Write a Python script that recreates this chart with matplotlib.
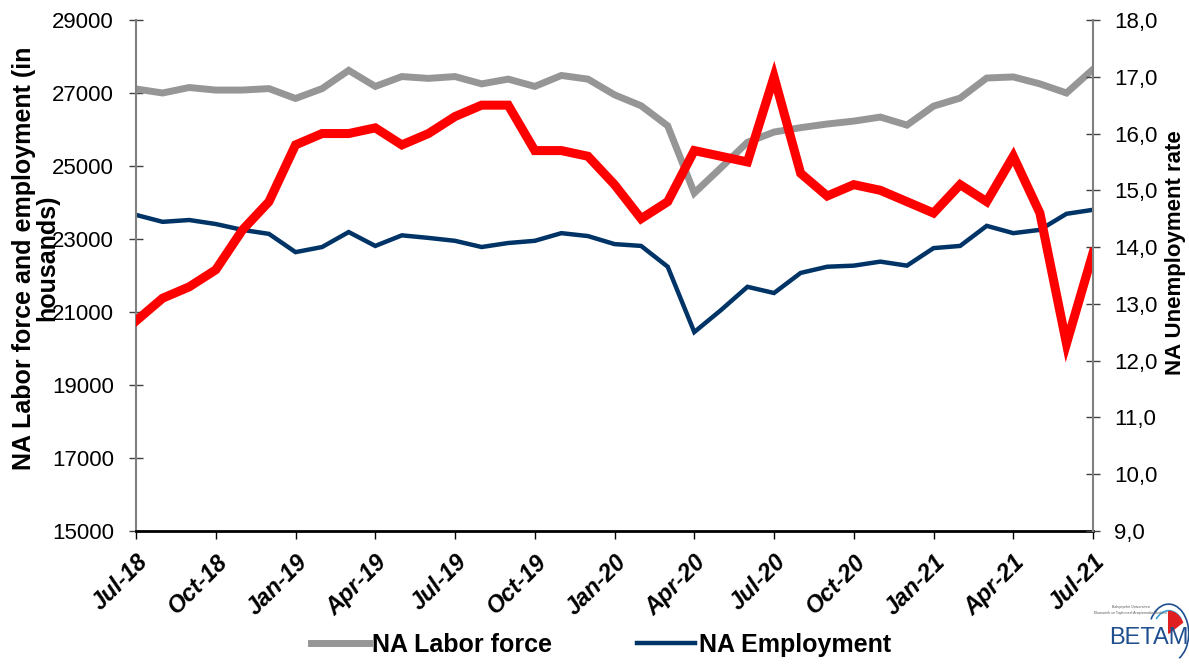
import matplotlib.pyplot as plt
from matplotlib.lines import Line2D
from matplotlib.patches import Arc, Wedge

# --- Data ---
months = ['Jul-18', 'Aug-18', 'Sep-18', 'Oct-18', 'Nov-18', 'Dec-18',
          'Jan-19', 'Feb-19', 'Mar-19', 'Apr-19', 'May-19', 'Jun-19',
          'Jul-19', 'Aug-19', 'Sep-19', 'Oct-19', 'Nov-19', 'Dec-19',
          'Jan-20', 'Feb-20', 'Mar-20', 'Apr-20', 'May-20', 'Jun-20',
          'Jul-20', 'Aug-20', 'Sep-20', 'Oct-20', 'Nov-20', 'Dec-20',
          'Jan-21', 'Feb-21', 'Mar-21', 'Apr-21', 'May-21', 'Jun-21',
          'Jul-21']

labor_force = [27110, 27000, 27150, 27080, 27080, 27120,
               26850, 27120, 27620, 27180, 27450, 27400,
               27450, 27250, 27380, 27180, 27480, 27380,
               26950, 26650, 26100, 24260, 24950, 25650,
               25930, 26050, 26150, 26230, 26340, 26120,
               26640, 26860, 27410, 27440, 27250, 27000,
               27650]

employment = [23660, 23470, 23520, 23410, 23250, 23140,
              22640, 22780, 23190, 22810, 23100, 23030,
              22950, 22780, 22890, 22950, 23160, 23080,
              22860, 22810, 22240, 20450, 21050, 21690,
              21520, 22070, 22240, 22270, 22380, 22270,
              22750, 22810, 23360, 23160, 23250, 23690,
              23800]

unemp_rate = [12.7, 13.1, 13.3, 13.6, 14.3, 14.8,
              15.8, 16.0, 16.0, 16.1, 15.8, 16.0,
              16.3, 16.5, 16.5, 15.7, 15.7, 15.6,
              15.1, 14.5, 14.8, 15.7, 15.6, 15.5,
              17.0, 15.3, 14.9, 15.1, 15.0, 14.8,
              14.6, 15.1, 14.8, 15.6, 14.6, 12.3,
              13.9]

left_ticks = [15000, 17000, 19000, 21000, 23000, 25000, 27000, 29000]
right_ticks = [9, 10, 11, 12, 13, 14, 15, 16, 17, 18]

GRAY = '#969696'
NAVY = '#003366'
RED = '#ff0000'
FONT = 'Liberation Sans'

plt.rcParams['font.family'] = [FONT, 'DejaVu Sans']

fig = plt.figure(figsize=(11.89, 6.64), dpi=100)
ax = fig.add_axes([0.1144, 0.2003, 0.8049, 0.7696])
ax2 = ax.twinx()

x = list(range(len(months)))

ax.plot(x, labor_force, color=GRAY, lw=5, solid_joinstyle='miter')
ax.plot(x, employment, color=NAVY, lw=3.2, solid_joinstyle='miter')
ax2.plot(x, unemp_rate, color=RED, lw=6.5, solid_joinstyle='miter')

# --- Axes styling ---
ax.set_xlim(0, len(months) - 1)
ax.set_ylim(15000, 29000)
ax2.set_ylim(9, 18)

ax.set_yticks(left_ticks)
ax.set_yticklabels([str(v) for v in left_ticks], fontsize=16)
ax2.set_yticks(right_ticks)
ax2.set_yticklabels([f'{v:.1f}'.replace('.', ',') for v in right_ticks], fontsize=16)

ax.set_xticks(x[::3])
ax.set_xticklabels(months[::3], rotation=45, ha='right', rotation_mode='anchor',
                   fontsize=17, fontweight='bold', fontstyle='italic')

for a in (ax, ax2):
    a.spines['top'].set_visible(False)
    a.patch.set_visible(False)
ax.spines['right'].set_visible(False)
ax2.spines['left'].set_visible(False)
ax2.spines['bottom'].set_visible(False)
ax.spines['left'].set_color('#808080')
ax2.spines['right'].set_color('#808080')
ax.spines['left'].set_linewidth(1.5)
ax2.spines['right'].set_linewidth(1.5)
ax.spines['bottom'].set_color('black')
ax.spines['bottom'].set_linewidth(2)

ax.tick_params(axis='y', direction='inout', length=10, width=1, color='#404040', pad=11)
ax2.tick_params(axis='y', direction='inout', length=10, width=1, color='#404040', pad=10)
ax.tick_params(axis='x', direction='out', length=6, width=1, color='black', pad=8)

ax.set_ylabel('NA Labor force and employment (in\nhousands)', fontsize=18,
              fontweight='bold', linespacing=0.95)
ax.yaxis.set_label_coords(-0.080, 0.534)
fig.text(0.9885, 0.620, 'NA Unemployment rate', rotation=90, fontsize=16,
         fontweight='bold', ha='center', va='center')

# --- Legend (only the two left-axis series) ---
handles = [Line2D([], [], color=GRAY, lw=5),
           Line2D([], [], color=NAVY, lw=3.2)]
fig.legend(handles, ['NA Labor force', 'NA Employment'], loc='center',
           bbox_to_anchor=(0.5055, 0.0286), ncol=2, frameon=False,
           prop={'family': FONT, 'size': 18, 'weight': 'bold'},
           handlelength=2.3, columnspacing=3.4, handletextpad=0.15)

# --- BETAM logo approximation ---
fig.text(0.9665, 0.022, 'BETAM', fontsize=17, color='#1f4f8f', ha='center',
         va='bottom', fontfamily=FONT)
fig.text(0.951, 0.083, 'Bahçeşehir Üniversitesi', fontsize=2.6, color='#555555',
         ha='center', va='bottom')
fig.text(0.951, 0.074, 'Ekonomik ve Toplumsal Araştırmalar Merkezi', fontsize=2.6,
         color='#555555', ha='center', va='bottom')
logo = fig.add_axes([0.955, 0.0, 0.045, 0.11])
logo.set_xlim(0, 1)
logo.set_ylim(0, 1)
logo.axis('off')
logo.add_patch(Arc((0.62, 0.42), 0.75, 0.8, theta1=-60, theta2=150, color='#1f4f8f', lw=1.2))
logo.add_patch(Arc((0.62, 0.42), 0.6, 0.62, theta1=40, theta2=140, color='#3aa0d8', lw=1.2))
logo.add_patch(Wedge((0.62, 0.42), 0.3, 30, 90, color='#e02020'))

fig.savefig('out.png', dpi=100)
